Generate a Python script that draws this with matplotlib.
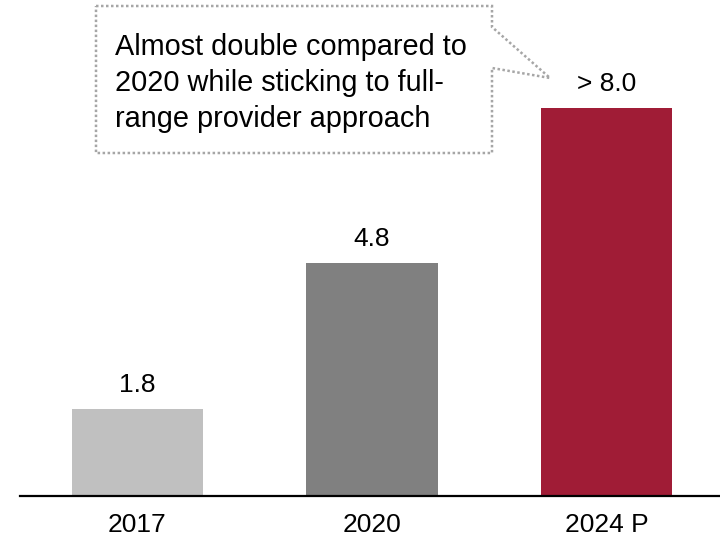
import matplotlib
matplotlib.use("Agg")
import matplotlib.pyplot as plt
from matplotlib.patches import Polygon

plt.rcParams['font.family'] = ['Liberation Sans', 'DejaVu Sans']

# Data
categories = ["2017", "2020", "2024 P"]
values = [1.8, 4.8, 8.0]
value_labels = ["1.8", "4.8", "> 8.0"]
colors = ["#C0C0C0", "#808080", "#A01C36"]
callout_lines = ["Almost double compared to",
                 "2020 while sticking to full-",
                 "range provider approach"]

W, H = 720, 536
fig = plt.figure(figsize=(W / 100, H / 100), dpi=100)

# Axes area in pixels (from top-left): x 20..720, baseline at y=496
ax = fig.add_axes([20 / W, 40 / H, 700 / W, 496 / H])
x = list(range(len(categories)))
ax.bar(x, values, width=0.559, color=colors, zorder=2)
ax.set_xlim(-0.501, 2.484)
ax.set_ylim(0, 10.22)

for xi, v, lab in zip(x, values, value_labels):
    ax.annotate(lab, (xi, v), xytext=(0, 8.5), textcoords="offset points",
                ha="center", va="bottom", fontsize=19, color="black")

ax.set_xticks(x)
ax.set_xticklabels(categories, fontsize=19)
ax.tick_params(axis="x", length=0, pad=12)
ax.set_yticks([])
for side in ["top", "left", "right"]:
    ax.spines[side].set_visible(False)
ax.spines["bottom"].set_linewidth(1.6)
ax.spines["bottom"].set_color("black")
ax.set_facecolor("none")

# Callout box with pointer toward the 2024 bar
pts = [(96, 6), (492, 6), (492, 27), (550, 78), (492, 68), (492, 153), (96, 153)]
pts_fig = [(px / W, 1 - py / H) for px, py in pts]
callout = Polygon(pts_fig, closed=True, transform=fig.transFigure,
                  fill=False, edgecolor="#A6A6A6", linewidth=1.8,
                  linestyle=(0, (1, 1)))
fig.add_artist(callout)

for i, line in enumerate(callout_lines):
    fig.text(115 / W, 1 - (55 + 36 * i) / H, line, fontsize=20.8,
             ha="left", va="baseline", color="black")

fig.savefig("out.png", dpi=100)
